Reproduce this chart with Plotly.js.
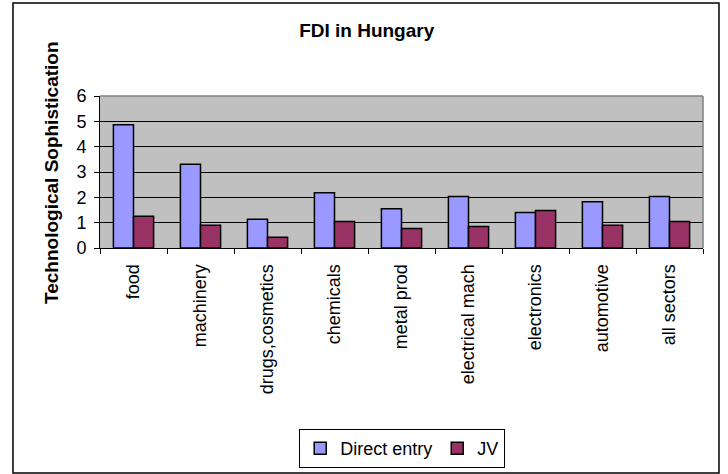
<!DOCTYPE html>
<html>
<head>
<meta charset="utf-8">
<script src="https://cdn.plot.ly/plotly-3.0.1.min.js"></script>
<style>html,body{margin:0;padding:0;background:#fff;}#chart{width:728px;height:474px;}</style>
</head>
<body>
<div id="chart"></div>
<script>
var categories = ["food", "machinery", "drugs,cosmetics", "chemicals", "metal prod", "electrical mach", "electronics", "automotive", "all sectors"];
var directEntry = [4.87, 3.31, 1.13, 2.18, 1.55, 2.03, 1.40, 1.83, 2.03];
var jv = [1.25, 0.90, 0.42, 1.05, 0.77, 0.85, 1.48, 0.90, 1.05];
var yTicks = [0, 1, 2, 3, 4, 5, 6];

var FONT = "Liberation Sans, Arial, sans-serif";

var traces = [
  {type: "bar", name: "Direct entry", x: categories, y: directEntry,
   marker: {color: "#9999FF", line: {color: "#000000", width: 1.5}}},
  {type: "bar", name: "JV", x: categories, y: jv,
   marker: {color: "#993366", line: {color: "#000000", width: 1.5}}}
];

var layout = {
  width: 728, height: 474,
  margin: {l: 100, r: 25, t: 96, b: 226, pad: 0},
  paper_bgcolor: "#ffffff",
  plot_bgcolor: "#C0C0C0",
  font: {family: FONT, size: 18, color: "#000000"},
  barmode: "group",
  bargap: 0.4,
  bargroupgap: 0,
  title: {text: "<b>FDI in Hungary</b>", font: {family: FONT, size: 19, color: "#000"},
          x: 0.5037, xanchor: "center", y: 0.9367, yanchor: "middle"},
  xaxis: {
    type: "category",
    automargin: false,
    tickangle: -90,
    ticks: "outside", ticklen: 5, tickcolor: "#000", tickwidth: 1,
    tickson: "boundaries",
    showline: true, linecolor: "#000", linewidth: 1,
    showgrid: false,
    tickfont: {family: FONT, size: 18, color: "#000"},
    ticklabelstandoff: 8
  },
  yaxis: {
    automargin: false,
    range: [0, 6],
    tickvals: yTicks,
    ticks: "outside", ticklen: 5, tickcolor: "#000", tickwidth: 1,
    showline: true, linecolor: "#000", linewidth: 1,
    showgrid: true, gridcolor: "#000", gridwidth: 1,
    zeroline: false,
    tickfont: {family: FONT, size: 18, color: "#000"},
    ticklabelstandoff: 4
  },
  showlegend: true,
  legend: {
    orientation: "h",
    xref: "container", yref: "container",
    x: 0.411, xanchor: "left",
    y: 0.0949, yanchor: "top",
    bordercolor: "#000", borderwidth: 1,
    bgcolor: "#ffffff",
    font: {family: FONT, size: 18, color: "#000"},
    itemwidth: 30,
    traceorder: "normal"
  },
  annotations: [
    {text: "<b>Technological Sophistication</b>", textangle: -90,
     xref: "paper", yref: "paper", x: -0.0813, y: 0.5,
     xanchor: "center", yanchor: "middle", showarrow: false,
     font: {family: FONT, size: 19, color: "#000"}}
  ],
  shapes: [
    {type: "line", xref: "paper", yref: "paper", x0: 0, x1: 1, y0: 1, y1: 1,
     line: {color: "#808080", width: 1.5}},
    {type: "line", xref: "paper", yref: "paper", x0: 1, x1: 1, y0: 0, y1: 1,
     line: {color: "#808080", width: 1.5}},
    {type: "rect", xref: "paper", yref: "paper", x0: -0.1443, x1: 1.0265, y0: -1.48, y1: 1.6118,
     line: {color: "#000", width: 1.5}}
  ]
};

Plotly.newPlot("chart", traces, layout, {displayModeBar: false, staticPlot: true});
</script>
</body>
</html>
